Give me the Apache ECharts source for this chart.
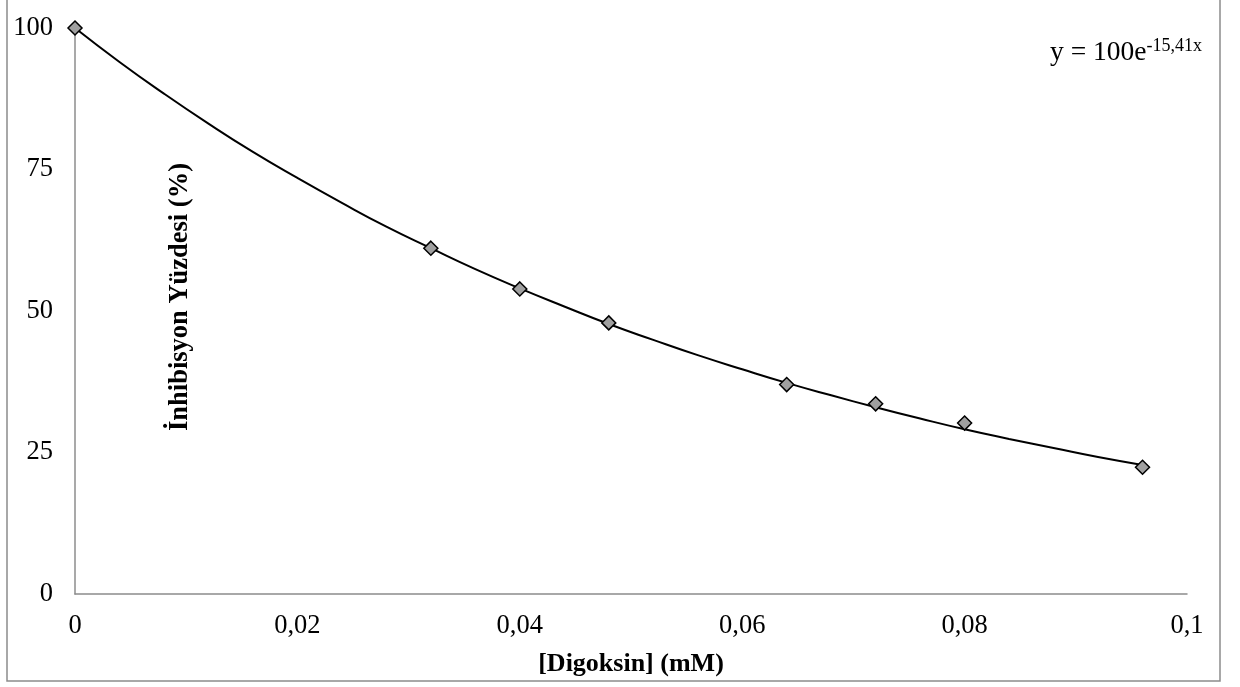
<!DOCTYPE html>
<html>
<head>
<meta charset="utf-8">
<script src="https://cdn.jsdelivr.net/npm/echarts@6/dist/echarts.min.js"></script>
<style>html,body{margin:0;padding:0;background:#fff}#c{width:1240px;height:687px}</style>
</head>
<body>
<div id="c"></div>
<script>
// Measured points: [Digoksin] (mM) and inhibition (%)
const concentrations = [0, 0.032, 0.04, 0.048, 0.064, 0.072, 0.08, 0.096];
const inhibition = [100, 61.1, 53.9, 47.9, 37.0, 33.6, 30.2, 22.4];
// Trend line (exponential fit curve)
const trendX = [0, 0.004, 0.008, 0.012, 0.016, 0.02, 0.024, 0.028, 0.032, 0.036, 0.04, 0.044,
                0.048, 0.052, 0.056, 0.06, 0.064, 0.068, 0.072, 0.076, 0.08, 0.084, 0.088, 0.092, 0.096];
const trendY = [100, 94.0, 88.4, 83.1, 78.1, 73.5, 69.1, 64.9, 61.1, 57.4, 54.0, 50.8,
                47.7, 44.9, 42.2, 39.7, 37.3, 35.1, 33.0, 31.0, 29.1, 27.4, 25.8, 24.2, 22.8];
const yTicks = [0, 25, 50, 75, 100];
const xTicks = [0, 0.02, 0.04, 0.06, 0.08, 0.1];
const xTitle = '[Digoksin] (mM)';
const yTitle = 'İnhibisyon Yüzdesi (%)';
const eqMain = 'y = 100e';
const eqSup = '-15,41x';

const font = 'Liberation Serif';
const chart = echarts.init(document.getElementById('c'), null, {renderer: 'canvas'});
const fmt = v => String(Number(v.toFixed(4))).replace('.', ',');
chart.setOption({
  animation: false,
  backgroundColor: '#fff',
  grid: {left: 75, right: 53, top: 28, bottom: 93, containLabel: false},
  xAxis: {
    type: 'value', min: xTicks[0], max: xTicks[xTicks.length - 1], interval: 0.02,
    axisLine: {show: true, lineStyle: {color: '#8c8c8c', width: 1.5}},
    axisTick: {show: false},
    splitLine: {show: false},
    axisLabel: {fontFamily: font, fontSize: 26.5, color: '#000', margin: 19, formatter: fmt},
    name: xTitle, nameLocation: 'middle', nameGap: 57,
    nameTextStyle: {fontFamily: font, fontSize: 26, fontWeight: 'bold', color: '#000'}
  },
  yAxis: {
    type: 'value', min: yTicks[0], max: yTicks[yTicks.length - 1], interval: 25,
    axisLine: {show: true, lineStyle: {color: '#8c8c8c', width: 1.5}},
    axisTick: {show: false},
    splitLine: {show: false},
    axisLabel: {fontFamily: font, fontSize: 26.5, color: '#000', margin: 22}
  },
  graphic: [
    {type: 'rect', shape: {x: 7, y: -2, width: 1213, height: 683},
     style: {fill: 'none', stroke: '#8c8c8c', lineWidth: 1.5}, silent: true, z: -1},
    {type: 'text', x: 180, y: 297, rotation: Math.PI / 2,
     style: {text: yTitle, fontFamily: font, fontSize: 26.5, fontWeight: 'bold', fill: '#000',
             textAlign: 'center', textVerticalAlign: 'middle'}},
    {type: 'text', right: 38, top: 37,
     style: {rich: {a: {fontFamily: font, fontSize: 27.5, fill: '#000', verticalAlign: 'bottom', lineHeight: 30},
                    s: {fontFamily: font, fontSize: 18, fill: '#000', verticalAlign: 'top', lineHeight: 30, padding: [0, 0, 10, 0]}},
             text: '{a|' + eqMain + '}{s|' + eqSup + '}'}}
  ],
  series: [
    {
      type: 'line', data: trendX.map((x, i) => [x, trendY[i]]), smooth: true,
      showSymbol: false, symbol: 'none',
      lineStyle: {color: '#000', width: 2}, z: 2, silent: true
    },
    {
      type: 'scatter', data: concentrations.map((x, i) => [x, inhibition[i]]),
      symbol: 'diamond', symbolSize: 14,
      itemStyle: {color: '#a0a0a0', borderColor: '#000', borderWidth: 1.5, opacity: 1}, z: 3
    }
  ]
});
</script>
</body>
</html>
